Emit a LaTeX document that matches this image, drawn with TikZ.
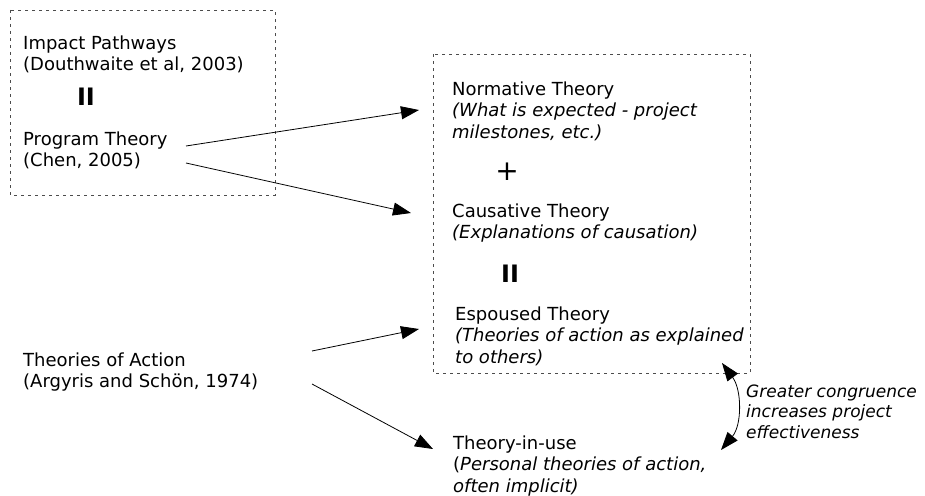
\documentclass[tikz,border=0pt]{standalone}
\usepackage{fontspec}
\setmainfont{DejaVu Sans}
\usetikzlibrary{arrows.meta}
\begin{document}
\begin{tikzpicture}
		[x=1pt, y=-1pt,
		txt/.style={anchor=base west, inner sep=0pt, align=left,
			font=\fontsize{18}{21.5}\selectfont},
		small/.style={txt, font=\fontsize{17}{20.5}\selectfont\itshape},
		sign/.style={inner sep=0pt, font=\bfseries\fontsize{24}{24}\selectfont},
		plus/.style={inner sep=0pt, font=\fontsize{28}{28}\selectfont},
		grp/.style={draw=black!70, line width=0.8pt, dash pattern=on 3pt off 4pt},
		link/.style={draw, line width=0.8pt, -{Triangle[length=18pt, width=13pt]}},
		both/.style={draw, line width=0.8pt,
			{Triangle[length=18pt, width=13pt]}-{Triangle[length=18pt, width=13pt]}}
	]
		\useasboundingbox (0,0) rectangle (925,495);
		\draw[grp] (10,10) rectangle (275,195);
		\draw[grp] (433,54) rectangle (750,373);
		\node[txt] (impact) at (23,70.5) {Impact Pathways\\(Douthwaite et al, 2003)};
		\node[sign] (eqa) at (86,97) {II};
		\node[txt] (prog) at (23,166.5) {Program Theory\\(Chen, 2005)};
		\node[txt] (norm) at (452,138) {Normative Theory\\\itshape(What is expected - project\\\itshape milestones, etc.)};
		\node[plus] (add) at (507,172) {+};
		\node[txt] (caus) at (452,238.5) {Causative Theory\\\itshape(Explanations of causation)};
		\node[sign] (eqb) at (510,274) {II};
		\node[txt] (esp) at (455,363) {Espoused Theory\\\itshape(Theories of action as explained\\\itshape to others)};
		\node[txt] (action) at (23,387.5) {Theories of Action\\(Argyris and Schön, 1974)};
		\node[txt] (use) at (453,492) {Theory-in-use\\(\textit{Personal theories of action,}\\\itshape often implicit)};
		\node[small] (congr) at (746,438) {Greater congruence\\increases project\\effectiveness};
		\coordinate (cgtop) at ([shift={(-24,-75)}]congr.base west);
		\coordinate (cgbot) at ([shift={(-25,12)}]congr.base west);
		\draw[link] ([shift={(163,-20.5)}]prog.base west) -- ([shift={(-33,-28)}]norm.base west);
		\draw[link] ([shift={(163,-3.5)}]prog.base west) -- ([shift={(-41,-25.5)}]caus.base west);
		\draw[link] ([shift={(289,-36.5)}]action.base west) -- ([shift={(-36,-34)}]esp.base west);
		\draw[link] ([shift={(289,-3.5)}]action.base west) -- ([shift={(-20,-43)}]use.base west);
		\draw[both] (cgtop) .. controls (742,390) and (742,425) .. (cgbot);
	\end{tikzpicture}
\end{document}
